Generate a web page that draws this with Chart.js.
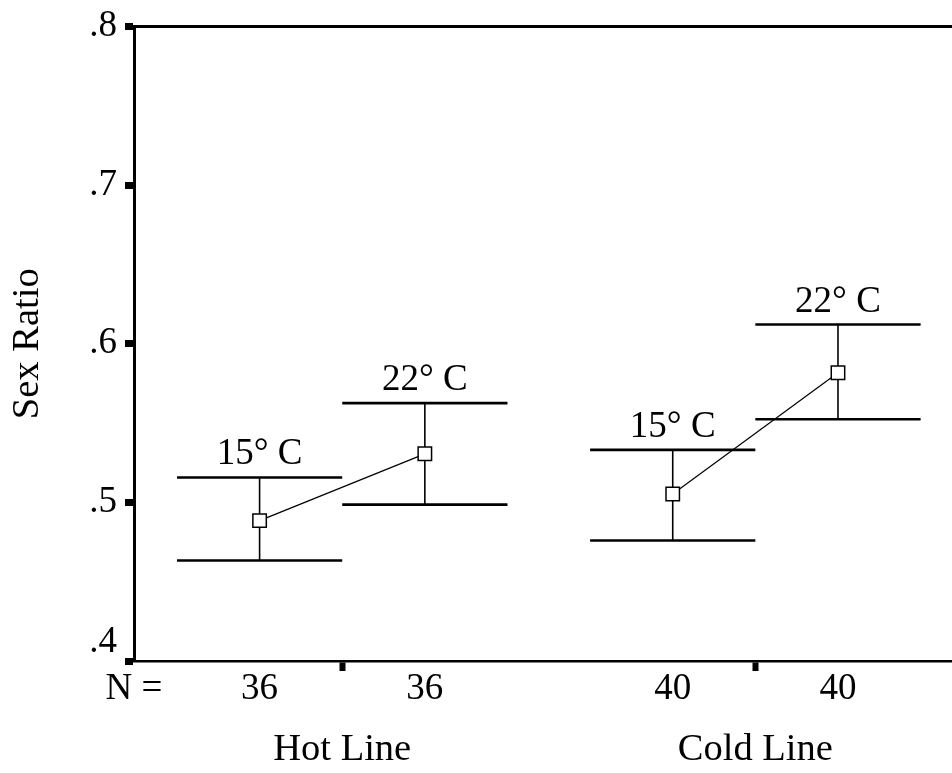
<!DOCTYPE html>
<html>
<head>
<meta charset="utf-8">
<script src="https://cdn.jsdelivr.net/npm/chart.js@4.4.1/dist/chart.umd.min.js"></script>
<style>
  html, body { margin: 0; padding: 0; background: #fff; }
  #wrap { position: relative; width: 952px; height: 773px; }
</style>
</head>
<body>
<div id="wrap"><canvas id="myChart"></canvas></div>
<script>
// groups and temperatures
const groupNames = ['Hot Line', 'Cold Line'];
const groupCenters = [1.5, 4];
const tempLabels = ['15° C', '22° C'];

// slot positions on the x scale, one per temperature
const hotX = [1, 2];
const coldX = [3.5, 4.5];

// sample sizes
const hotN = [36, 36];
const coldN = [40, 40];

// sex ratio means and interval ends
const hotMean = [0.4885, 0.5306];
const hotLow = [0.4634, 0.4986];
const hotHigh = [0.5157, 0.5626];
const coldMean = [0.5053, 0.5817];
const coldLow = [0.476, 0.5524];
const coldHigh = [0.5331, 0.6121];

// y axis ticks (bottom label lifted off the x axis with an empty second line)
const yTicks = [0.4, 0.5, 0.6, 0.7, 0.8];
const yTickLabels = [['.4', ''], '.5', '.6', '.7', '.8'];

const xMin = 0.24, xMax = 5.19;
const serif = '"Liberation Serif", "Times New Roman", serif';

// bottom row: "N =" then the counts, plus blank ticks at the group centres
const nRow = [{ value: xMin, label: 'N =' }];
hotX.forEach((v, i) => nRow.push({ value: v, label: String(hotN[i]) }));
coldX.forEach((v, i) => nRow.push({ value: v, label: String(coldN[i]) }));
groupCenters.forEach(v => nRow.push({ value: v, label: '' }));
nRow.sort((a, b) => a.value - b.value);

const series = [
  { xs: hotX, mean: hotMean, low: hotLow, high: hotHigh },
  { xs: coldX, mean: coldMean, low: coldLow, high: coldHigh }
];

const errorBars = {
  id: 'errorBars',
  beforeDatasetsDraw(chart) {
    const { ctx, scales: { x, y } } = chart;
    ctx.save();
    ctx.strokeStyle = '#000';
    series.forEach(s => {
      s.xs.forEach((xv, i) => {
        const px = x.getPixelForValue(xv);
        const pl = x.getPixelForValue(xv - 0.5);
        const pr = x.getPixelForValue(xv + 0.5);
        const top = y.getPixelForValue(s.high[i]);
        const bot = y.getPixelForValue(s.low[i]);
        ctx.lineWidth = 1.6;
        ctx.beginPath();
        ctx.moveTo(px, top);
        ctx.lineTo(px, bot);
        ctx.stroke();
        ctx.lineWidth = 2.6;
        ctx.beginPath();
        ctx.moveTo(pl, top); ctx.lineTo(pr, top);
        ctx.moveTo(pl, bot); ctx.lineTo(pr, bot);
        ctx.stroke();
      });
    });
    ctx.restore();
  },
  afterDatasetsDraw(chart) {
    const { ctx, scales: { x, y } } = chart;
    ctx.save();
    ctx.fillStyle = '#000';
    ctx.font = '37px ' + serif;
    ctx.textAlign = 'center';
    ctx.textBaseline = 'alphabetic';
    series.forEach(s => {
      s.xs.forEach((xv, i) => {
        ctx.fillText(tempLabels[i], x.getPixelForValue(xv), y.getPixelForValue(s.high[i]) - 13);
      });
    });
    ctx.restore();
  }
};

const pointStyle = {
  borderColor: '#000',
  borderWidth: 1.2,
  pointStyle: 'rect',
  pointRadius: 9.5,
  pointBorderWidth: 1.5,
  pointBackgroundColor: '#fff',
  pointBorderColor: '#000',
  showLine: true,
  fill: false
};

new Chart(document.getElementById('myChart'), {
  type: 'scatter',
  data: {
    datasets: [
      Object.assign({ label: groupNames[0], data: hotX.map((v, i) => ({ x: v, y: hotMean[i] })) }, pointStyle),
      Object.assign({ label: groupNames[1], data: coldX.map((v, i) => ({ x: v, y: coldMean[i] })) }, pointStyle)
    ]
  },
  options: {
    responsive: true,
    maintainAspectRatio: false,
    animation: false,
    layout: { padding: 0, autoPadding: false },
    plugins: { legend: { display: false }, tooltip: { enabled: false } },
    scales: {
      x: {
        type: 'linear',
        position: 'bottom',
        min: xMin,
        max: xMax,
        afterBuildTicks: s => { s.ticks = nRow.map(t => ({ value: t.value })); },
        afterFit: s => { s.height = 50; },
        ticks: {
          autoSkip: false,
          maxRotation: 0,
          padding: 0,
          color: '#000',
          font: { family: serif, size: 37, lineHeight: 1 },
          callback: (v, i) => nRow[i].label
        },
        grid: {
          drawOnChartArea: false,
          tickLength: 10,
          tickWidth: 6,
          tickColor: c => (c.tick && groupCenters.includes(c.tick.value)) ? '#000' : 'rgba(0,0,0,0)'
        },
        border: { color: '#000', width: 2.5 }
      },
      xg: {
        type: 'linear',
        position: 'bottom',
        min: xMin,
        max: xMax,
        afterBuildTicks: s => { s.ticks = groupCenters.map(v => ({ value: v })); },
        afterFit: s => { s.height = 62; },
        ticks: {
          autoSkip: false,
          maxRotation: 0,
          padding: 20,
          color: '#000',
          font: { family: serif, size: 38.5, lineHeight: 1 },
          callback: (v, i) => groupNames[i]
        },
        grid: { display: false, drawTicks: false },
        border: { display: false }
      },
      xt: {
        type: 'linear',
        position: 'top',
        min: xMin,
        max: xMax,
        afterFit: s => { s.height = 24; },
        ticks: { display: false },
        grid: { drawOnChartArea: false, drawTicks: false },
        border: { color: '#000', width: 3 }
      },
      y: {
        min: 0.4,
        max: 0.8,
        afterBuildTicks: s => { s.ticks = yTicks.map(v => ({ value: v })); },
        afterFit: s => { s.width = 134; },
        ticks: {
          padding: 8,
          color: '#000',
          font: { family: serif, size: 37, lineHeight: 1 },
          callback: (v, i) => yTickLabels[i]
        },
        grid: { drawOnChartArea: false, tickLength: 9, tickWidth: 7, tickColor: '#000' },
        border: { color: '#000', width: 3 },
        title: {
          display: true,
          text: 'Sex Ratio',
          color: '#000',
          font: { family: serif, size: 38.5, lineHeight: 1 },
          padding: { top: 9, bottom: 0 }
        }
      }
    }
  },
  plugins: [errorBars]
});
</script>
</body>
</html>
